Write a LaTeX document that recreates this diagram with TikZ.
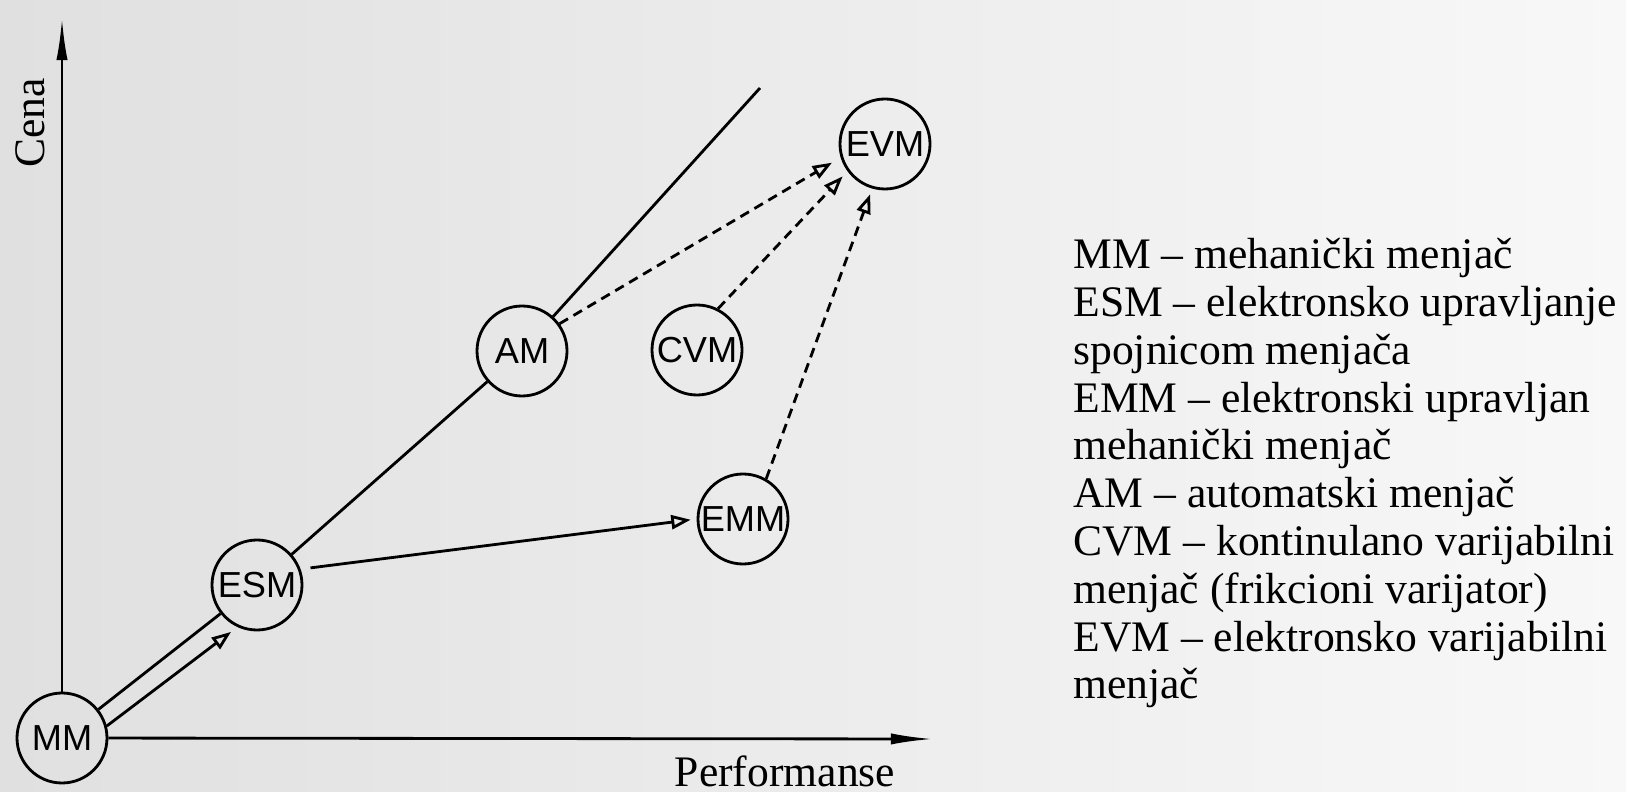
\documentclass[tikz,border=0pt]{standalone}
\usepackage{fontspec}
\setmainfont{Liberation Serif}
\setsansfont{Liberation Sans}
\usetikzlibrary{arrows.meta}
\definecolor{paperL}{RGB}{224,224,224}
\definecolor{paperR}{RGB}{248,248,248}

\begin{document}
\begin{tikzpicture}[thick,
    gearbox/.style={circle, draw, line width=0.8pt, minimum size=0.9cm,
        inner sep=0pt, font=\sffamily\fontsize{10.3}{12}\selectfont},
    axis/.style={line width=0.8pt, -{Latex[length=12pt,width=3.2pt]}},
    link/.style={line width=0.8pt},
    openarrow/.style={line width=0.8pt, -{Triangle[open,length=5.5pt,width=4pt]}},
    dasharrow/.style={openarrow, dash pattern=on 2.8pt off 1.8pt},
    axislabel/.style={font=\fontsize{12.4}{14}\selectfont}]

    % 1. Paper and frame
    \shade[left color=paperL, right color=paperR] (0,0) rectangle (16.26,7.91);
    \useasboundingbox (0,0) rectangle (16.26,7.91);

    % 2. Axis ends and end of the main line
    \coordinate (ytop) at (0.62,7.73);
    \coordinate (xend) at (9.33,0.52);
    \coordinate (top) at (7.60,7.03);

    % 3. The gearbox types
    \node[gearbox] (MM)  at (0.62,0.53) {MM};
    \node[gearbox] (ESM) at (2.57,2.06) {ESM};
    \node[gearbox] (AM)  at (5.22,4.40) {AM};
    \node[gearbox] (CVM) at (6.97,4.41) {CVM};
    \node[gearbox] (EMM) at (7.43,2.72) {EMM};
    \node[gearbox] (EVM) at (8.85,6.47) {EVM};

    % 4. Axes
    \draw[axis] (MM) -- (ytop);
    \draw[axis] (MM) -- (xend);

    % 5. Main line and arrows
    \draw[link] (MM) -- (ESM) -- (AM) -- (top);
    \draw[openarrow, shorten >=0.08cm] (MM.15) -- (ESM.-115);
    \draw[openarrow, shorten <=0.1cm, shorten >=0.06cm] (ESM.20) -- (EMM.west);
    \draw[dasharrow, shorten >=0.1cm] (AM.36) -- (EVM.197);
    \draw[dasharrow, shorten >=0.07cm] (CVM.63) -- (EVM.216);
    \draw[dasharrow, shorten >=0.06cm] (EMM.60) -- (EVM.254);

    % 6. Axis labels
    \node[axislabel, rotate=90] (cena) at (0.30,6.68) {Cena};
    \node[axislabel, anchor=base, inner sep=0pt] (perf) at (7.85,0.05) {Performanse};

    % 7. Legend
    \node[anchor=north west, align=left, inner sep=0pt,
          font=\fontsize{12.4}{13.6}\selectfont] (legend) at (10.72,5.54)
        {MM -- mehanički menjač\\
         ESM -- elektronsko upravljanje\\
         spojnicom menjača\\
         EMM -- elektronski upravljan\\
         mehanički menjač\\
         AM -- automatski menjač\\
         CVM -- kontinulano varijabilni\\
         menjač (frikcioni varijator)\\
         EVM -- elektronsko varijabilni\\
         menjač};

\end{tikzpicture}
\end{document}
